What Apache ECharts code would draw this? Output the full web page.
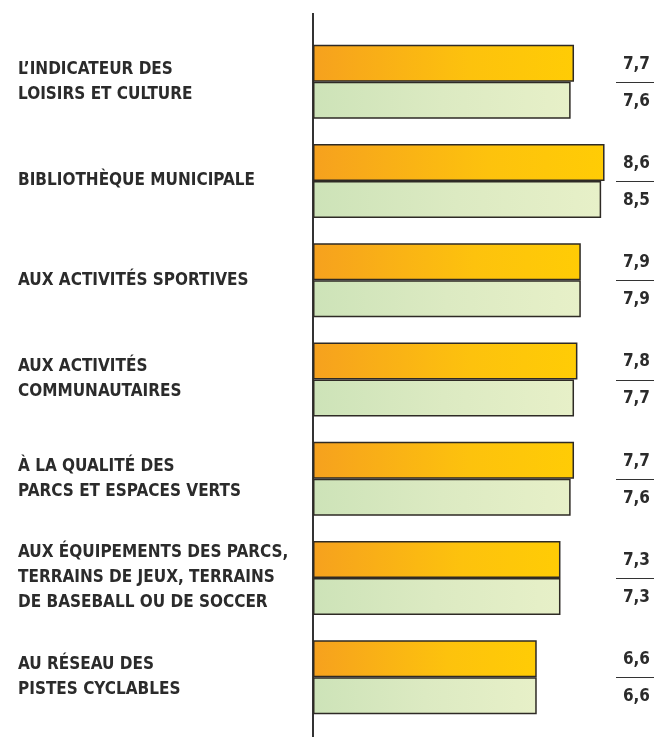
<!DOCTYPE html>
<html>
<head>
<meta charset="utf-8">
<script src="https://cdn.jsdelivr.net/npm/echarts@6/dist/echarts.min.js"></script>
<style>
html, body { margin: 0; padding: 0; background: #fff; }
#main { width: 654px; height: 737px; }
</style>
</head>
<body>
<div id="main"></div>
<script>
// categories (top to bottom)
var categories = [
	'L\u2019INDICATEUR DES\nLOISIRS ET CULTURE',
	'BIBLIOTHÈQUE MUNICIPALE',
	'AUX ACTIVITÉS SPORTIVES',
	'AUX ACTIVITÉS\nCOMMUNAUTAIRES',
	'À LA QUALITÉ DES\nPARCS ET ESPACES VERTS',
	'AUX ÉQUIPEMENTS DES PARCS,\nTERRAINS DE JEUX, TERRAINS\nDE BASEBALL OU DE SOCCER',
	'AU RÉSEAU DES\nPISTES CYCLABLES'
];
var orangeValues = [7.7, 8.6, 7.9, 7.8, 7.7, 7.3, 6.6];
var greenValues = [7.6, 8.5, 7.9, 7.7, 7.6, 7.3, 6.6];

var textColor = '#2b2b2b';
var fontFamily = '"Liberation Sans Narrow", "DejaVu Sans Condensed", Roboto, sans-serif';

var myChart = echarts.init(document.getElementById('main'));

function valueLabel() {
	return {
		show: true,
		formatter: function (p) { return String(p.value).replace('.', ','); },
		color: textColor,
		fontFamily: fontFamily,
		fontWeight: 'bold',
		fontSize: 17
	};
}

// put value labels at right edge, vertically centered on their bar
function layoutLabel(params) {
	return {
		x: myChart.getWidth() - 4,
		y: params.rect.y + params.rect.height / 2 + 1,
		align: 'right',
		verticalAlign: 'middle'
	};
}

var option = {
	animation: false,
	grid: { left: 313, right: 2, top: 32, height: 695 },
	xAxis: {
		type: 'value',
		min: 0,
		max: 10,
		show: false
	},
	yAxis: {
		type: 'category',
		inverse: true,
		data: categories,
		axisLine: { show: false },
		axisTick: { show: false },
		axisLabel: {
			align: 'left',
			margin: 295,
			color: textColor,
			fontFamily: fontFamily,
			fontWeight: 'bold',
			fontSize: 17,
			lineHeight: 25,
			padding: [7, 0, 0, 0]
		}
	},
	series: [
		{
			type: 'bar',
			data: orangeValues,
			barWidth: 37,
			barGap: '0%',
			itemStyle: {
				color: new echarts.graphic.LinearGradient(0, 0, 1, 0, [
					{ offset: 0, color: '#f6a11e' },
					{ offset: 0.6, color: '#fdc20d' },
					{ offset: 1, color: '#ffcc05' }
				]),
				borderColor: '#2e2a25',
				borderWidth: 1.5
			},
			label: valueLabel(),
			labelLayout: layoutLabel
		},
		{
			type: 'bar',
			data: greenValues,
			barWidth: 37,
			itemStyle: {
				color: new echarts.graphic.LinearGradient(0, 0, 1, 0, [
					{ offset: 0, color: '#cde3b8' },
					{ offset: 0.5, color: '#dceac2' },
					{ offset: 1, color: '#e7f0c8' }
				]),
				borderColor: '#2e2a25',
				borderWidth: 1.5
			},
			label: valueLabel(),
			labelLayout: layoutLabel
		}
	]
};
myChart.setOption(option);

// axis line and the small rules between the two values
var x0 = myChart.convertToPixel({ xAxisIndex: 0 }, 0);
var elements = [{
	type: 'line',
	shape: { x1: x0, y1: 13, x2: x0, y2: 737 },
	style: { stroke: '#333', lineWidth: 2 }
}];
categories.forEach(function (c, i) {
	var y = Math.round(myChart.convertToPixel({ yAxisIndex: 0 }, i)) + 0.5;
	elements.push({
		type: 'line',
		shape: { x1: 616, y1: y, x2: 654, y2: y },
		style: { stroke: '#333', lineWidth: 1 }
	});
});
myChart.setOption({ graphic: { elements: elements } });
</script>
</body>
</html>
